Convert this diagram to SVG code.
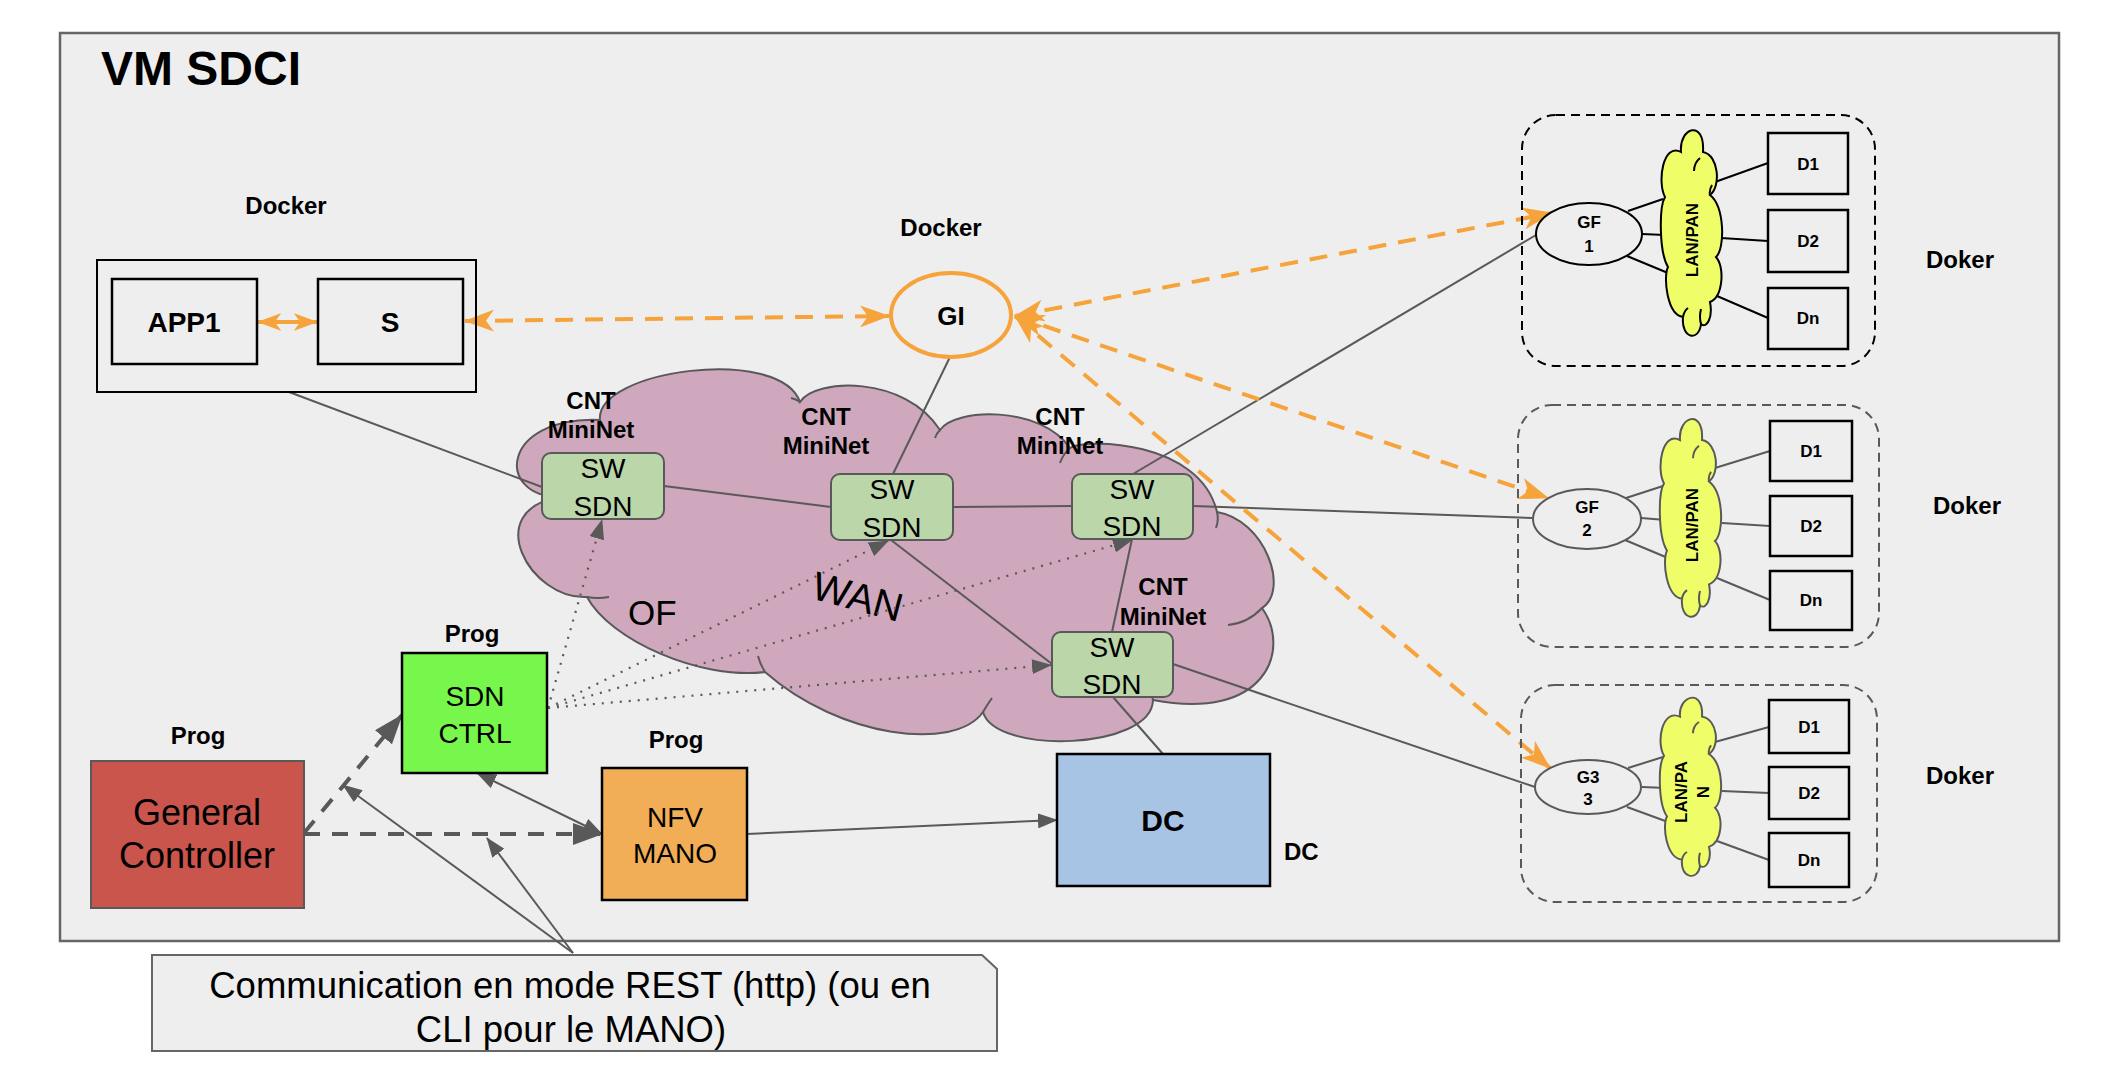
<svg xmlns="http://www.w3.org/2000/svg" width="2114" height="1082" viewBox="0 0 2114 1082">
<defs>
<style>
text{font-family:"Liberation Sans",Arial,sans-serif;fill:#000}
.lbl{font-size:24px;font-weight:bold;text-anchor:middle}
.sw{fill:#bbd6a9;stroke:#595959;stroke-width:2}
.swt{font-size:28px;text-anchor:middle}
.ln{stroke:#595959;stroke-width:2;fill:none}
.lk{stroke:#000;stroke-width:2;fill:none}
.od{stroke:#f5a33a;stroke-width:4;stroke-dasharray:18 12;fill:none;marker-start:url(#oa);marker-end:url(#oa)}
.gd{stroke:#595959;stroke-width:4;stroke-dasharray:16 12;fill:none;marker-end:url(#ga)}
.dot{stroke:#595959;stroke-width:2.2;stroke-dasharray:2 7;fill:none;marker-end:url(#sa)}
.thin{stroke:#595959;stroke-width:2;fill:none;marker-end:url(#sa)}
.dbox{fill:none;stroke:#000;stroke-width:2.5}
.dt{font-size:17px;font-weight:bold;text-anchor:middle}
.ycl{fill:#effe68;stroke-width:2;vector-effect:non-scaling-stroke}
.ystub{fill:none;stroke-width:2;vector-effect:non-scaling-stroke}
.gf{fill:#eeeeee;stroke-width:2}
.grp{fill:none;stroke-width:2;stroke-dasharray:9 6}
</style>
<marker id="oa" viewBox="0 0 30 22" refX="29" refY="11" markerWidth="30" markerHeight="22" markerUnits="userSpaceOnUse" orient="auto-start-reverse"><path d="M0,0 L30,11 L0,22 L8,11 Z" fill="#f5a33a"/></marker>
<marker id="os" viewBox="0 0 30 22" refX="29" refY="11" markerWidth="24" markerHeight="22" markerUnits="userSpaceOnUse" orient="auto-start-reverse"><path d="M0,0 L30,11 L0,22 L8,11 Z" fill="#f5a33a"/></marker>
<marker id="ga" viewBox="0 0 30 22" refX="29" refY="11" markerWidth="30" markerHeight="22" markerUnits="userSpaceOnUse" orient="auto-start-reverse"><path d="M0,0 L30,11 L0,22 Z" fill="#595959"/></marker>
<marker id="sa" viewBox="0 0 20 15" refX="19" refY="7.5" markerWidth="20" markerHeight="15" markerUnits="userSpaceOnUse" orient="auto-start-reverse"><path d="M0,0 L20,7.5 L0,15 Z" fill="#595959"/></marker>
<path id="ycloud" d="M18,25 C16,0 42,-8 40,25 C56,28 58,60 47,68 C62,80 62,122 53,130 C62,140 60,170 47,175 C50,190 44,202 38,197 C36,215 18,212 20,190 C4,188 0,150 5,140 C-4,125 -4,80 2,70 C-6,55 0,15 18,25 Z"/>
<path id="ystubs" d="M37,31 Q31,36 31,44 M47,68 Q46,63 49,58 M38,197 Q36,190 38,182 M20,190 Q21,184 25,181"/>
</defs>

<g id="frame">
<rect x="60" y="33" width="1999" height="908" fill="#eeeeee" stroke="#666666" stroke-width="2.5"/>
<text x="101" y="85" font-size="48" font-weight="bold">VM SDCI</text>
</g>

<g id="wan-cloud">
<path d="M560,497 C495,497 500,416 600,420 C595,370 780,345 800,402 C815,378 905,375 940,430 C955,408 1040,405 1070,448 C1085,438 1200,440 1217,512 C1265,520 1290,590 1262,608 C1292,650 1265,722 1153,700 C1152,750 995,755 983,712 C955,752 840,738 765,672 C700,680 610,640 587,597 C530,600 480,510 560,497 Z" fill="#cfa8bd" stroke="#595959" stroke-width="2"/>
<path d="M587,597 Q598,599 609,597 M765,672 Q760,664 758,656 M983,712 Q987,705 992,698 M1153,700 Q1152,695 1150,690 M1262,608 Q1248,623 1228,625 M1217,512 Q1219,520 1216,528 M1070,448 Q1063,454 1060,463 M940,430 Q936,434 935,438 M800,402 Q796,399 791,398" fill="none" stroke="#595959" stroke-width="2"/>
<text x="628" y="625" font-size="35">OF</text>
<text x="854" y="610" font-size="40" text-anchor="middle" transform="rotate(15 854 610)">WAN</text>
</g>

<g id="connectors">
<path class="ln" d="M289,392 L542,487"/>
<path class="ln" d="M664,486 L831,507"/>
<path class="ln" d="M953,507 L1072,506"/>
<path class="ln" d="M950,357 L893,474"/>
<path class="ln" d="M891,540 L1052,664"/>
<path class="ln" d="M1132,539 L1112,632"/>
<path class="ln" d="M1133,474 L1536,235"/>
<path class="ln" d="M1193,506 L1532,518"/>
<path class="ln" d="M1173,664 L1535,787"/>
<path class="ln" d="M1113,697 L1163,754"/>
<path class="dot" d="M548,708 L602,520"/>
<path class="dot" d="M548,708 L888,541"/>
<path class="dot" d="M548,708 L1132,540"/>
<path class="dot" d="M548,708 L1051,665"/>
<path class="thin" d="M747,834 L1057,820"/>
<path class="thin" d="M602,834 L477,773" style="marker-start:url(#sa)"/>
<path class="thin" d="M573,953 L343,785"/>
<path class="thin" d="M573,953 L487,838"/>
<path class="gd" d="M304,834 L602,834"/>
<path class="gd" d="M304,833 L402,715"/>
<path class="od" d="M465,321 L889,316"/>
<path class="od" d="M1015,316 L1552,213"/>
<path class="od" d="M1015,316 L1548,498"/>
<path class="od" d="M1015,316 L1550,768"/>
<path class="od" d="M258,322 L317,322" style="marker-start:url(#os);marker-end:url(#os);stroke-dasharray:none"/>
</g>

<g id="docker-app">
<rect x="97" y="260" width="379" height="132" fill="none" stroke="#000" stroke-width="2"/>
<text x="286" y="214" class="lbl">Docker</text>
</g>
<g id="app1">
<rect x="112" y="279" width="145" height="85" fill="none" stroke="#000" stroke-width="2.5"/>
<text x="184" y="332" font-size="28" font-weight="bold" text-anchor="middle">APP1</text>
</g>
<g id="s">
<rect x="318" y="279" width="145" height="85" fill="none" stroke="#000" stroke-width="2.5"/>
<text x="390" y="332" font-size="28" font-weight="bold" text-anchor="middle">S</text>
</g>

<g id="gi">
<ellipse cx="951" cy="315" rx="60" ry="42" fill="#eeeeee" stroke="#f5a33a" stroke-width="4"/>
<text x="951" y="325" font-size="26" font-weight="bold" text-anchor="middle">GI</text>
<text x="941" y="236" class="lbl">Docker</text>
</g>

<g id="sw1">
<rect class="sw" x="542" y="453" width="122" height="66" rx="9"/>
<text class="swt" x="603" y="478">SW</text><text class="swt" x="603" y="516">SDN</text>
<text class="lbl" x="591" y="409">CNT</text><text class="lbl" x="591" y="438">MiniNet</text>
</g>
<g id="sw2">
<rect class="sw" x="831" y="474" width="122" height="66" rx="9"/>
<text class="swt" x="892" y="499">SW</text><text class="swt" x="892" y="537">SDN</text>
<text class="lbl" x="826" y="425">CNT</text><text class="lbl" x="826" y="454">MiniNet</text>
</g>
<g id="sw3">
<rect class="sw" x="1072" y="474" width="121" height="65" rx="9"/>
<text class="swt" x="1132" y="499">SW</text><text class="swt" x="1132" y="536">SDN</text>
<text class="lbl" x="1060" y="425">CNT</text><text class="lbl" x="1060" y="454">MiniNet</text>
</g>
<g id="sw4">
<rect class="sw" x="1052" y="632" width="121" height="65" rx="9"/>
<text class="swt" x="1112" y="657">SW</text><text class="swt" x="1112" y="694">SDN</text>
<text class="lbl" x="1163" y="595">CNT</text><text class="lbl" x="1163" y="625">MiniNet</text>
</g>

<g id="sdn-ctrl">
<rect x="402" y="653" width="145" height="120" fill="#77f64b" stroke="#000" stroke-width="2.5"/>
<text class="swt" x="475" y="706">SDN</text><text class="swt" x="475" y="743">CTRL</text>
<text class="lbl" x="472" y="642">Prog</text>
</g>
<g id="general-controller">
<rect x="91" y="761" width="213" height="147" fill="#c9554c" stroke="#595959" stroke-width="2"/>
<text x="197" y="825" font-size="36" text-anchor="middle">General</text>
<text x="197" y="868" font-size="36" text-anchor="middle">Controller</text>
<text class="lbl" x="198" y="744">Prog</text>
</g>
<g id="nfv-mano">
<rect x="602" y="768" width="145" height="132" fill="#f1ae56" stroke="#000" stroke-width="2.5"/>
<text class="swt" x="675" y="827">NFV</text><text class="swt" x="675" y="863">MANO</text>
<text class="lbl" x="676" y="748">Prog</text>
</g>
<g id="dc">
<rect x="1057" y="754" width="213" height="132" fill="#a8c4e4" stroke="#000" stroke-width="2.5"/>
<text x="1163" y="831" font-size="30" font-weight="bold" text-anchor="middle">DC</text>
<text x="1284" y="860" font-size="24" font-weight="bold">DC</text>
</g>

<g id="callout">
<path d="M152,955 L982,955 L997,969 L997,1051 L152,1051 Z" fill="#eeeeee" stroke="#666666" stroke-width="2"/>
<text x="570" y="998" font-size="36.5" text-anchor="middle">Communication en mode REST (http) (ou en</text>
<text x="571" y="1042" font-size="36.5" text-anchor="middle">CLI pour le MANO)</text>
</g>

<g id="docker-gf1" stroke="#000">
<rect class="grp" x="1522" y="115" width="353" height="251" rx="34"/>
<line class="lk" x1="1628" y1="211" x2="1663" y2="199"/>
<line class="lk" x1="1642" y1="234" x2="1665" y2="235"/>
<line class="lk" x1="1627" y1="256" x2="1668" y2="273"/>
<line class="lk" x1="1715" y1="182" x2="1768" y2="163"/>
<line class="lk" x1="1721" y1="238" x2="1768" y2="241"/>
<line class="lk" x1="1717" y1="296" x2="1768" y2="318"/>
<ellipse class="gf" cx="1589" cy="234" rx="53" ry="31"/>
<text class="dt" x="1589" y="228" stroke="none">GF</text><text class="dt" x="1589" y="252" stroke="none">1</text>
<g transform="translate(1663,127)"><use href="#ycloud" class="ycl"/><use href="#ystubs" class="ystub"/></g>
<text class="dt" stroke="none" font-size="18" transform="translate(1692,240) rotate(-90)" y="6">LAN/PAN</text>
<rect class="dbox" x="1768" y="133" width="80" height="61"/><text class="dt" stroke="none" x="1808" y="170">D1</text>
<rect class="dbox" x="1768" y="210" width="80" height="62"/><text class="dt" stroke="none" x="1808" y="247">D2</text>
<rect class="dbox" x="1768" y="288" width="80" height="61"/><text class="dt" stroke="none" x="1808" y="324">Dn</text>
<text class="lbl" stroke="none" x="1960" y="268">Doker</text>
</g>

<g id="docker-gf2" stroke="#595959">
<rect class="grp" x="1518" y="405" width="361" height="242" rx="34"/>
<line class="ln" x1="1626" y1="498" x2="1663" y2="486"/>
<line class="ln" x1="1641" y1="518" x2="1666" y2="520"/>
<line class="ln" x1="1625" y1="540" x2="1668" y2="558"/>
<line class="ln" x1="1715" y1="468" x2="1770" y2="451"/>
<line class="ln" x1="1722" y1="523" x2="1770" y2="526"/>
<line class="ln" x1="1717" y1="578" x2="1770" y2="600"/>
<ellipse class="gf" cx="1587" cy="519" rx="54" ry="30"/>
<text class="dt" x="1587" y="513" stroke="none">GF</text><text class="dt" x="1587" y="536" stroke="none">2</text>
<g transform="translate(1662,416) scale(1,0.962)"><use href="#ycloud" class="ycl"/><use href="#ystubs" class="ystub"/></g>
<text class="dt" stroke="none" font-size="18" transform="translate(1692,525) rotate(-90)" y="6">LAN/PAN</text>
<rect class="dbox" x="1770" y="421" width="82" height="60"/><text class="dt" stroke="none" x="1811" y="457">D1</text>
<rect class="dbox" x="1770" y="496" width="82" height="60"/><text class="dt" stroke="none" x="1811" y="532">D2</text>
<rect class="dbox" x="1770" y="571" width="82" height="59"/><text class="dt" stroke="none" x="1811" y="606">Dn</text>
<text class="lbl" stroke="none" x="1967" y="514">Doker</text>
</g>

<g id="docker-g3" stroke="#595959">
<rect class="grp" x="1521" y="685" width="356" height="217" rx="34"/>
<line class="ln" x1="1628" y1="768" x2="1663" y2="757"/>
<line class="ln" x1="1642" y1="787" x2="1666" y2="788"/>
<line class="ln" x1="1627" y1="807" x2="1668" y2="822"/>
<line class="ln" x1="1715" y1="742" x2="1769" y2="727"/>
<line class="ln" x1="1722" y1="791" x2="1769" y2="793"/>
<line class="ln" x1="1717" y1="841" x2="1769" y2="860"/>
<ellipse class="gf" cx="1588" cy="787" rx="53" ry="27"/>
<text class="dt" x="1588" y="783" stroke="none">G3</text><text class="dt" x="1588" y="805" stroke="none">3</text>
<g transform="translate(1662,695) scale(1,0.867)"><use href="#ycloud" class="ycl"/><use href="#ystubs" class="ystub"/></g>
<text class="dt" stroke="none" font-size="18" transform="translate(1691,792) rotate(-90)"><tspan x="0" y="-4.5">LAN/PA</tspan><tspan x="0" y="17.5">N</tspan></text>
<rect class="dbox" x="1769" y="700" width="80" height="53"/><text class="dt" stroke="none" x="1809" y="733">D1</text>
<rect class="dbox" x="1769" y="767" width="80" height="52"/><text class="dt" stroke="none" x="1809" y="799">D2</text>
<rect class="dbox" x="1769" y="833" width="80" height="54"/><text class="dt" stroke="none" x="1809" y="866">Dn</text>
<text class="lbl" stroke="none" x="1960" y="784">Doker</text>
</g>
</svg>
